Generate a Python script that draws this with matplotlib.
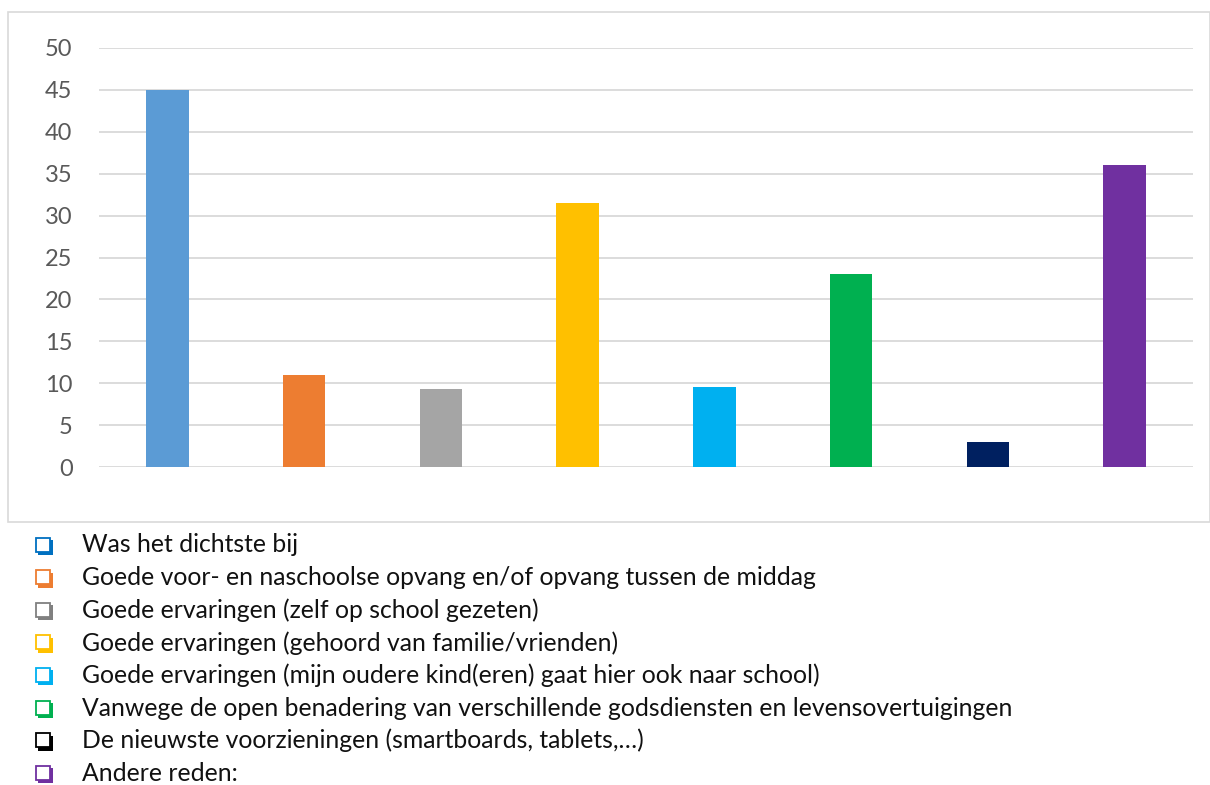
import matplotlib.pyplot as plt
from matplotlib.patches import Rectangle

# Data
categories = [
    'Was het dichtste bij',
    'Goede voor- en naschoolse opvang en/of opvang tussen de middag',
    'Goede ervaringen (zelf op school gezeten)',
    'Goede ervaringen (gehoord van familie/vrienden)',
    'Goede ervaringen (mijn oudere kind(eren) gaat hier ook naar school)',
    'Vanwege de open benadering van verschillende godsdiensten en levensovertuigingen',
    'De nieuwste voorzieningen (smartboards, tablets,\u2026)',
    'Andere reden:',
]
values = [45, 11, 9.3, 31.5, 9.6, 23, 3, 36]
bar_colors = ['#5B9BD5', '#ED7D31', '#A5A5A5', '#FFC000',
              '#00B0F0', '#00B050', '#002060', '#7030A0']
marker_colors = ['#0070C0', '#ED7D31', '#808080', '#FFC000',
                 '#00B0F0', '#00B050', '#000000', '#7030A0']
yticks = [0, 5, 10, 15, 20, 25, 30, 35, 40, 45, 50]

W, H = 1210, 785
fig = plt.figure(figsize=(W / 100, H / 100), dpi=100)


def px_rect(x0, y0, w, h, **kw):
    # rectangle given in pixel coords (top-left origin)
    return Rectangle((x0 / W, 1 - (y0 + h) / H), w / W, h / H,
                     transform=fig.transFigure, **kw)


# chart border
fig.patches.append(px_rect(8, 12, W - 8, 510, fill=False,
                           edgecolor='#D9D9D9', linewidth=1.2))

ax = fig.add_axes([99 / W, 1 - 467 / H, 1094 / W, (467 - 48) / H])
x = list(range(len(values)))
ax.bar(x, values, width=0.31, color=bar_colors, zorder=3)
ax.set_xlim(-0.5, len(values) - 0.5)
ax.set_ylim(0, 50)
ax.set_yticks(yticks)
ax.set_xticks([])
ax.grid(axis='y', color='#D9D9D9', linewidth=1.3, zorder=0)
for s in ax.spines.values():
    s.set_visible(False)
ax.tick_params(axis='y', length=0, pad=19, labelsize=17, labelcolor='#595959')
for lbl in ax.get_yticklabels():
    lbl.set_fontfamily('Lato')

# legend below the chart: shadowed box markers + text
for i, (name, c) in enumerate(zip(categories, marker_colors)):
    cy = 545 + i * 32.6
    fig.patches.append(px_rect(38, cy - 5, 15, 15, facecolor=c, edgecolor='none'))
    fig.patches.append(px_rect(35.5, cy - 7.5, 14, 14, facecolor='white',
                               edgecolor=c, linewidth=1.3))
    fig.text(82 / W, 1 - cy / H, name, color='#111111', fontsize=17.8,
             va='center', ha='left', family='Lato')

fig.savefig('out.png', dpi=100)
